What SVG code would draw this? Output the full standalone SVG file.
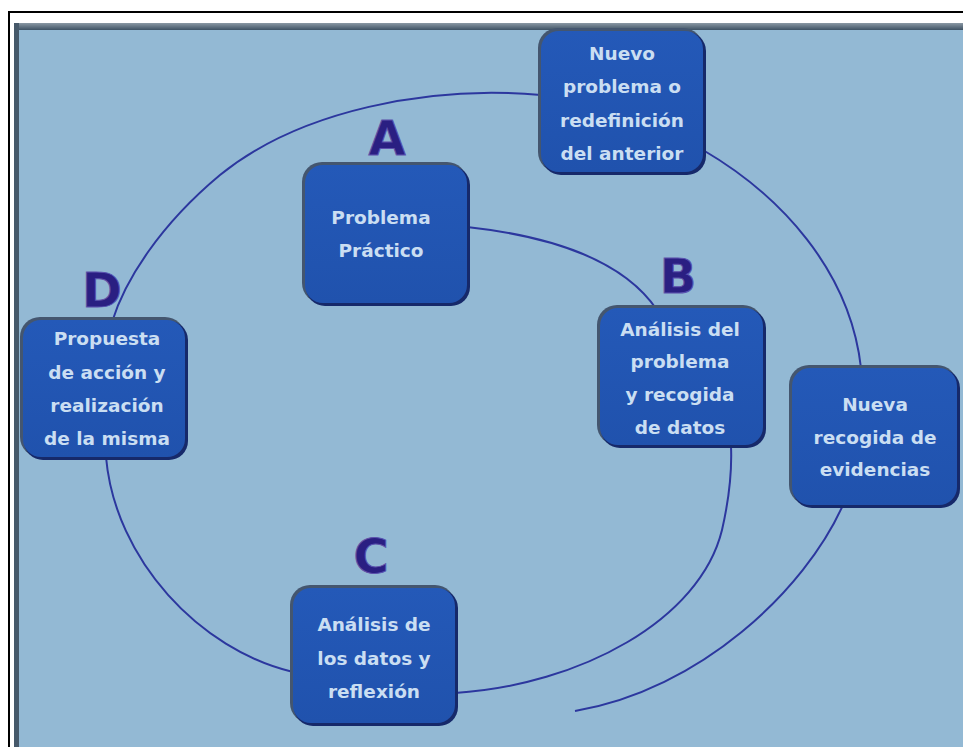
<svg xmlns="http://www.w3.org/2000/svg" width="963" height="747" viewBox="0 0 963 747">
<defs>
<linearGradient id="face" x1="0" y1="0" x2="0" y2="1">
<stop offset="0" stop-color="#2459b8"/>
<stop offset="1" stop-color="#2052ad"/>
</linearGradient>
<linearGradient id="topframe" x1="0" y1="0" x2="0" y2="1">
<stop offset="0" stop-color="#8a98a4"/>
<stop offset="1" stop-color="#3e5264"/>
</linearGradient>
</defs>
<style>
.edge{fill:#44566f}
.shadow{fill:#16296a}
.face{fill:url(#face)}
.lbl{font-family:"DejaVu Sans","Liberation Sans",sans-serif;font-weight:bold;font-size:18.5px;fill:#cadef2;text-anchor:middle}
.big{font-family:"DejaVu Sans","Liberation Sans",sans-serif;font-weight:bold;font-size:48px;fill:#2a1f82;stroke:#5c52ad;stroke-width:1;text-anchor:middle}
.con{fill:none;stroke:#2c379e;stroke-width:2}
</style>
<rect x="0" y="0" width="963" height="747" fill="#ffffff"/>
<rect x="8" y="11" width="955" height="2" fill="#000"/>
<rect x="8" y="11" width="2" height="736" fill="#000"/>
<rect x="14" y="23" width="949" height="7" fill="url(#topframe)"/>
<rect x="14" y="23" width="5" height="724" fill="#46596a"/>
<rect x="19" y="30" width="944" height="717" fill="#93b9d4"/>
<g id="connectors">
<path class="con" d="M541,95 C430,85 300,110 220,175 C160,225 125,280 112,322"/>
<path class="con" d="M106,457 C115,560 200,650 293,672"/>
<path class="con" d="M455,693 C580,685 700,620 722,530 C730,495 732,470 731,446"/>
<path class="con" d="M467,227 C540,235 620,255 657,310"/>
<path class="con" d="M703,150 C780,195 850,270 861,368"/>
<path class="con" d="M843,505 C805,590 700,690 575,711"/>
</g>
<g id="node-nuevo-problema">
<rect class="edge" x="538" y="28" width="165" height="144" rx="20"/>
<rect class="shadow" x="542" y="32" width="164" height="143" rx="19"/>
<rect class="face" x="541" y="31" width="162" height="141" rx="18"/>
<text class="lbl" x="622" y="60">Nuevo</text>
<text class="lbl" x="622" y="93">problema o</text>
<text class="lbl" x="622" y="127">redefinición</text>
<text class="lbl" x="622" y="160">del anterior</text>
</g>
<g id="node-a">
<text class="big" x="387" y="155">A</text>
<rect class="edge" x="302" y="162" width="165" height="141" rx="20"/>
<rect class="shadow" x="306" y="166" width="164" height="140" rx="19"/>
<rect class="face" x="305" y="165" width="162" height="138" rx="18"/>
<text class="lbl" x="381" y="224">Problema</text>
<text class="lbl" x="381" y="257">Práctico</text>
</g>
<g id="node-b">
<text class="big" x="678" y="293">B</text>
<rect class="edge" x="597" y="305" width="166" height="140" rx="20"/>
<rect class="shadow" x="601" y="309" width="165" height="139" rx="19"/>
<rect class="face" x="600" y="308" width="163" height="137" rx="18"/>
<text class="lbl" x="680" y="336">Análisis del</text>
<text class="lbl" x="680" y="368">problema</text>
<text class="lbl" x="680" y="401">y recogida</text>
<text class="lbl" x="680" y="434">de datos</text>
</g>
<g id="node-nueva-recogida">
<rect class="edge" x="789" y="365" width="168" height="140" rx="20"/>
<rect class="shadow" x="793" y="369" width="167" height="139" rx="19"/>
<rect class="face" x="792" y="368" width="165" height="137" rx="18"/>
<text class="lbl" x="875" y="411">Nueva</text>
<text class="lbl" x="875" y="444">recogida de</text>
<text class="lbl" x="875" y="476">evidencias</text>
</g>
<g id="node-d">
<text class="big" x="102" y="307">D</text>
<rect class="edge" x="20" y="317" width="165" height="140" rx="20"/>
<rect class="shadow" x="24" y="321" width="164" height="139" rx="19"/>
<rect class="face" x="23" y="320" width="162" height="137" rx="18"/>
<text class="lbl" x="107" y="345">Propuesta</text>
<text class="lbl" x="107" y="379">de acción y</text>
<text class="lbl" x="107" y="412">realización</text>
<text class="lbl" x="107" y="445">de la misma</text>
</g>
<g id="node-c">
<text class="big" x="371" y="573">C</text>
<rect class="edge" x="290" y="585" width="165" height="138" rx="20"/>
<rect class="shadow" x="294" y="589" width="164" height="137" rx="19"/>
<rect class="face" x="293" y="588" width="162" height="135" rx="18"/>
<text class="lbl" x="374" y="631">Análisis de</text>
<text class="lbl" x="374" y="665">los datos y</text>
<text class="lbl" x="374" y="698">reflexión</text>
</g>
</svg>
